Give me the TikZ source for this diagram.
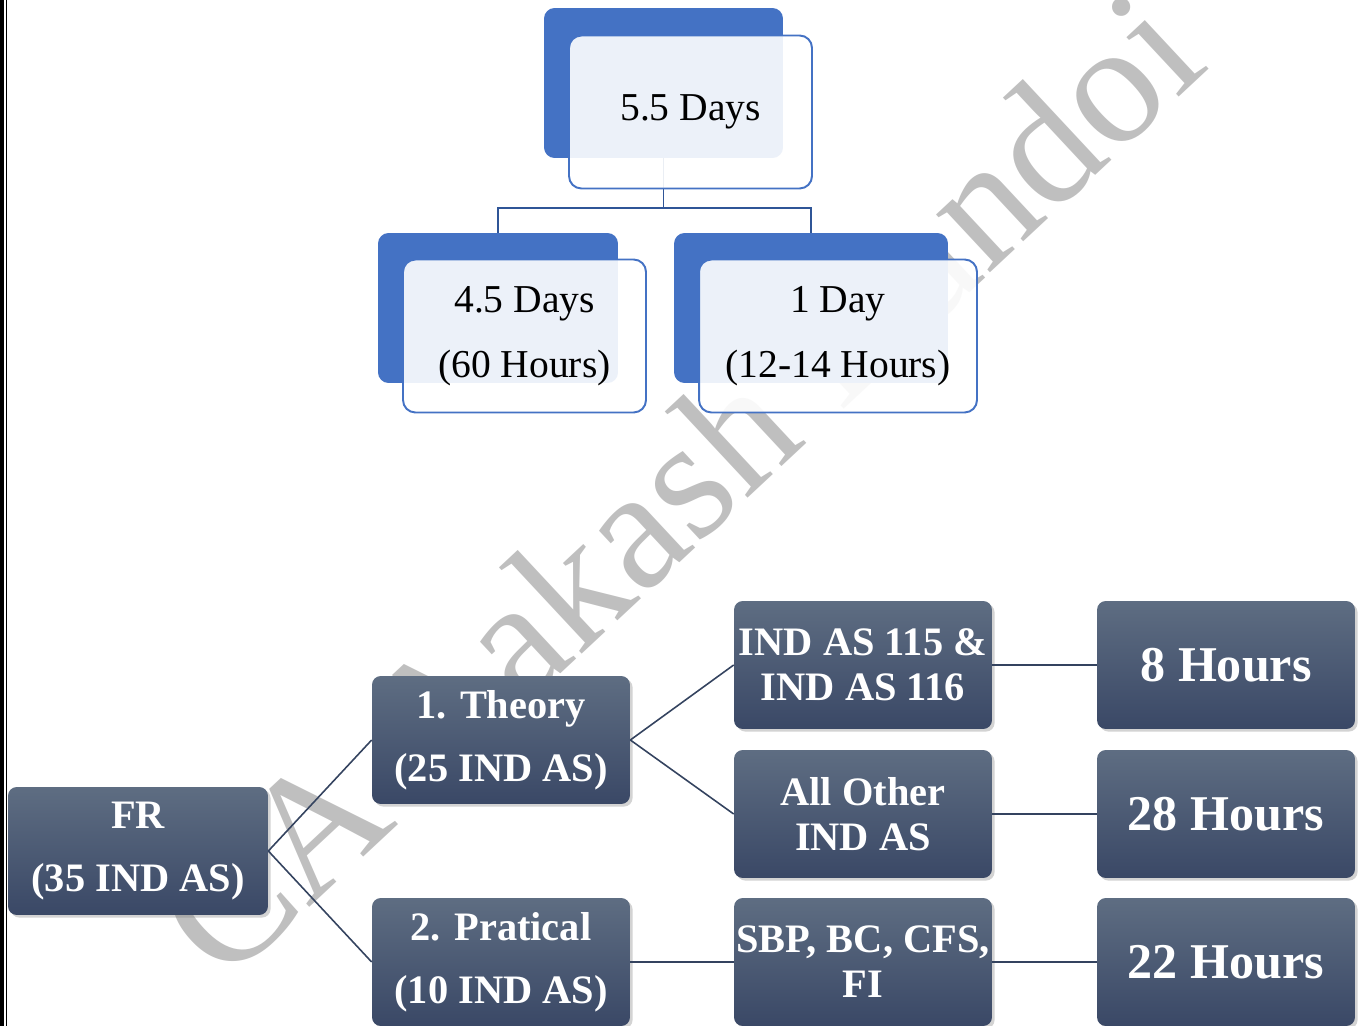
\documentclass[tikz,border=0pt]{standalone}
\usepackage{fontspec}
\setmainfont{Liberation Serif}
\usetikzlibrary{shadows}

\definecolor{backblue}{HTML}{4472C4}
\definecolor{linkblue}{HTML}{2F5597}
\definecolor{slatetop}{HTML}{5E6D82}
\definecolor{slatebot}{HTML}{3A4866}
\definecolor{slateline}{HTML}{34435F}
\definecolor{markgray}{HTML}{BFBFBF}

\begin{document}
\begin{tikzpicture}[x = 0.02cm, y = -0.02cm,
                    back/.style = {fill = backblue, rounded corners = 6pt, minimum height = 3cm, inner sep = 0pt},
                    front/.style = {draw = backblue, line width = 1.1pt, fill = white, fill opacity = 0.9, text opacity = 1,
                                    rounded corners = 7pt, minimum height = 3.06cm, inner sep = 0pt, align = center,
                                    font = \fontsize{22.5}{36.8}\selectfont},
                    slate/.style = {rounded corners = 5pt, top color = slatetop, bottom color = slatebot,
                                    drop shadow = {opacity = 0.35, shadow xshift = 1.5pt, shadow yshift = -1.5pt},
                                    minimum width = 5.16cm, minimum height = 2.56cm, inner sep = 0pt,
                                    text = white, align = center, font = \bfseries\fontsize{23}{35.7}\selectfont},
                    tight/.style = {font = \bfseries\fontsize{23}{25.5}\selectfont},
                    big/.style = {font = \bfseries\fontsize{28.5}{34}\selectfont},
                    link/.style = {draw = linkblue, line width = 1.1pt},
                    edge/.style = {draw = slateline, line width = 0.9pt}]
      \useasboundingbox (0, 0) rectangle (1358, 1026);

      % watermark and page border
      \node [markgray, font = \fontsize{98}{98}\selectfont, rotate = 43, anchor = base] (mark) at (718, 527){CA Aakash Kandoi};
      \draw [line width = 2.3pt] (2, 0) -- (2, 1026);
      \draw [line width = 0.8pt] (6.5, 0) -- (6.5, 1026);

      % days
      \node [back, minimum width = 4.78cm] (topback) at (663.5, 83){};
      \node [back, minimum width = 4.8cm] (leftback) at (498, 308){};
      \node [back, minimum width = 5.48cm] (rightback) at (811, 308){};
      \coordinate (fork) at (663.5, 208);

      \draw [link] (topback) -- (fork);
      \draw [link] (leftback.north) |- (fork) -| (rightback.north);

      \node [front, minimum width = 4.86cm] (top) at (690.5, 112){5.5 Days};
      \node [front, minimum width = 4.86cm] (left) at (524.5, 336){4.5 Days\\(60 Hours)};
      \node [front, minimum width = 5.56cm] (right) at (838, 336){1 Day\\(12-14 Hours)};

      % hours
      \node [slate, minimum width = 5.2cm] (fr) at (138, 851){FR\\(35 IND AS)};
      \node [slate] (theory) at (501, 740){1. Theory\\(25 IND AS)};
      \node [slate] (pract) at (501, 962){2. Pratical\\(10 IND AS)};
      \node [slate, tight] (lease) at (863, 665){IND AS 115 \&\\IND AS 116};
      \node [slate, tight] (other) at (863, 814){All Other\\IND AS};
      \node [slate, tight] (sbp) at (863, 962){SBP, BC, CFS,\\FI};
      \node [slate, big] (eight) at (1226, 665){8 Hours};
      \node [slate, big] (twentyeight) at (1226, 814){28 Hours};
      \node [slate, big] (twentytwo) at (1226, 962){22 Hours};

      \draw [edge] (fr.east) -- (theory.west);
      \draw [edge] (fr.east) -- (pract.west);
      \draw [edge] (theory.east) -- (lease.west);
      \draw [edge] (theory.east) -- (other.west);
      \draw [edge] (pract.east) -- (sbp.west);
      \draw [edge] (lease.east) -- (eight.west);
      \draw [edge] (other.east) -- (twentyeight.west);
      \draw [edge] (sbp.east) -- (twentytwo.west);
      \end{tikzpicture}
\end{document}
